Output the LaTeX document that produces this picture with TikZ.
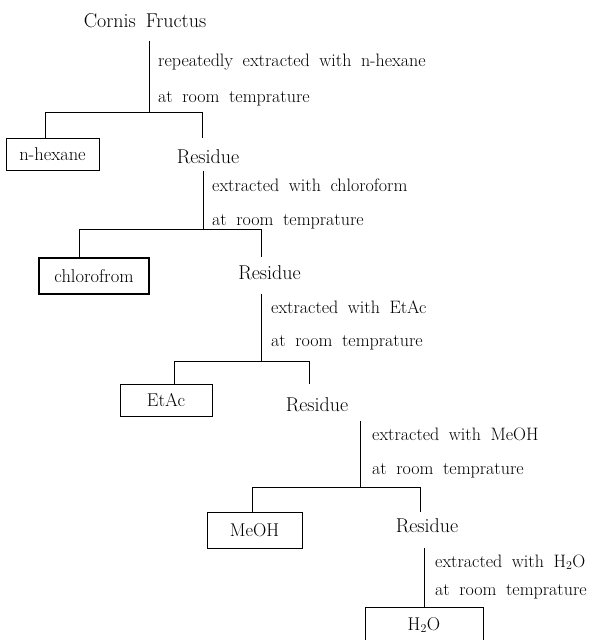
\documentclass[tikz,border=0pt]{standalone}
\usepackage{tikz}

\newcommand\headfont{\fontsize{20}{24}\selectfont\spaceskip=10pt plus 2pt\relax}
\newcommand\notefont{\fontsize{18}{22}\selectfont\spaceskip=9.5pt plus 2pt\relax}

\begin{document}
\begin{tikzpicture}[x=1pt,y=-1pt,thin,
  head node/.style={inner sep=0pt,anchor=base,font=\headfont},
  note node/.style={inner sep=0pt,anchor=base west,font=\notefont},
  box node/.style={rectangle,draw,inner sep=0pt,font=\fontsize{18.5}{22}\selectfont}]

  \useasboundingbox (0,0) rectangle (603,640);

  \node[head node] (cf) at (145,27) {Cornis Fructus};
  \node[note node] (l1a) at (158,66) {repeatedly extracted with n-hexane};
  \node[note node] (l1b) at (158,102) {at room temprature};
  \node[box node,minimum width=93,minimum height=32] (hex) at (52.5,154) {n-hexane};
  \node[head node] (res1) at (208,163) {Residue};

  \node[note node] (l2a) at (212,191) {extracted with chloroform};
  \node[note node] (l2b) at (212,225) {at room temprature};
  \node[box node,minimum width=110,minimum height=36,line width=1.4pt] (chl) at (94,276) {chlorofrom};
  \node[head node] (res2) at (269.5,279) {Residue};

  \node[note node] (l3a) at (271,313) {extracted with EtAc};
  \node[note node] (l3b) at (271,346) {at room temprature};
  \node[box node,minimum width=92,minimum height=32] (eta) at (166,400) {EtAc};
  \node[head node] (res3) at (317,411) {Residue};

  \node[note node] (l4a) at (372,440) {extracted with MeOH};
  \node[note node] (l4b) at (372,474) {at room temprature};
  \node[box node,minimum width=95,minimum height=36] (meoh) at (254.5,530) {MeOH};
  \node[head node] (res4) at (427,532) {Residue};

  \node[note node] (l5a) at (435,567) {extracted with H$_2$O};
  \node[note node] (l5b) at (435,595) {at room temprature};
  \node[box node,minimum width=118,minimum height=36] (h2o) at (424,625) {H$_2$O};

  % forks
  \coordinate (b1) at (149,112);
  \coordinate (b2) at (203,229);
  \coordinate (b3) at (261,361);
  \coordinate (b4) at (360,487);

  \draw[shorten <=13pt] (cf.south -| b1) -- (b1);
  \draw (b1) -| ([xshift=-7.5pt]hex.north);
  \draw[shorten >=11pt] (b1) -| ([xshift=-6pt]res1.north);

  \draw[shorten <=7pt] (res1.south -| b2) -- (b2);
  \draw (b2) -| ([xshift=-15pt]chl.north);
  \draw[shorten >=8pt] (b2) -| ([xshift=-8.5pt]res2.north);

  \draw[shorten <=14pt] (res2.south -| b3) -- (b3);
  \draw (b3) -| ([xshift=8pt]eta.north);
  \draw[shorten >=13pt] (b3) -| ([xshift=-8pt]res3.north);

  \draw[shorten <=9pt] (res3.south -| b4) -- (b4);
  \draw (b4) -| ([xshift=-2.5pt]meoh.north);
  \draw[shorten >=6pt] (b4) -| ([xshift=-7pt]res4.north);

  \draw[shorten <=15pt] (res4.south -| h2o.north) -- (h2o.north);
\end{tikzpicture}
\end{document}
